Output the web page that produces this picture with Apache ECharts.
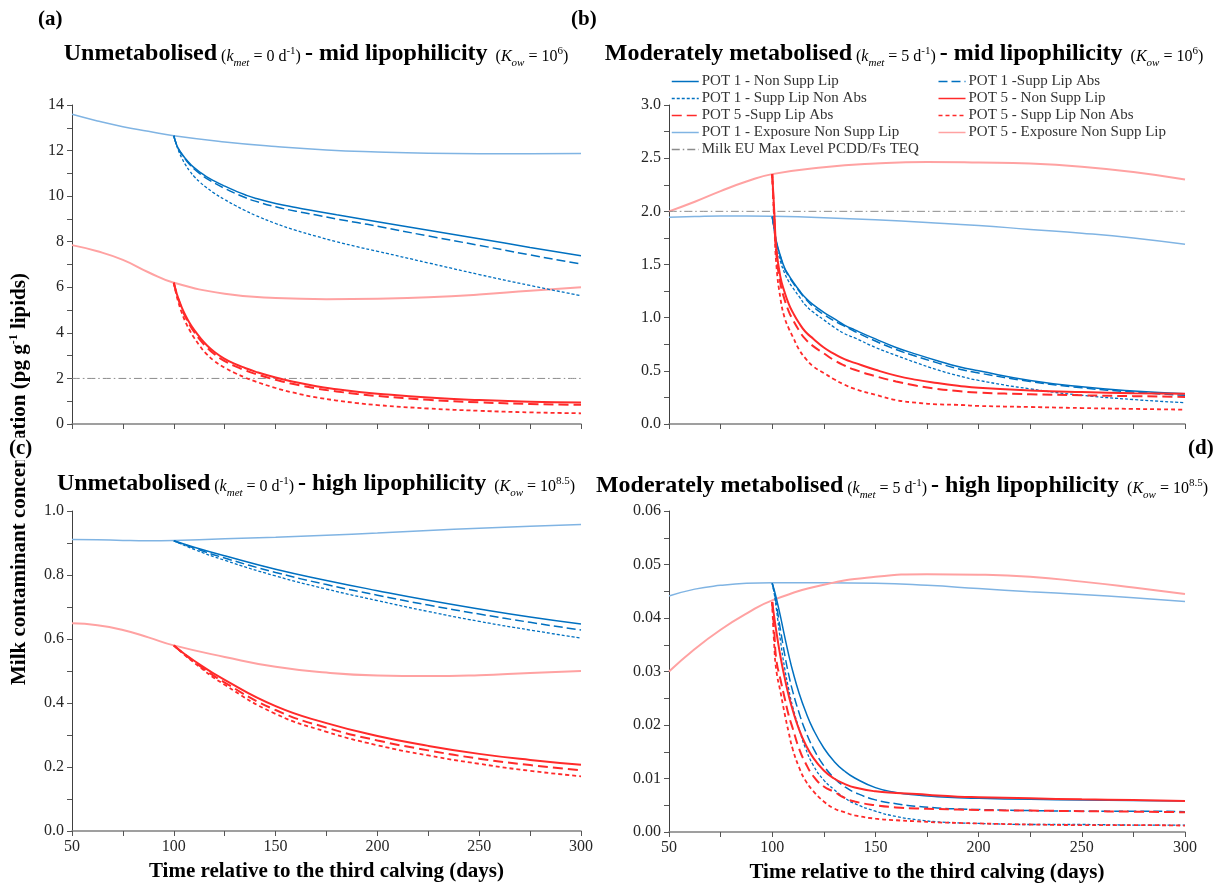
<!DOCTYPE html>
<html><head><meta charset="utf-8">
<script src="https://cdn.jsdelivr.net/npm/echarts@6/dist/echarts.min.js"></script>
<style>html,body{margin:0;padding:0;background:#fff}#c{width:1213px;height:883px}</style>
</head><body><div id="c"></div>
<script>
// ---------------- DATA ----------------
const daysExposure = [50, 62.5, 75, 87.5, 100, 125, 150, 175, 200, 225, 250, 275, 300];
const daysFast = [100, 101, 102, 104, 106, 108, 110, 113, 116, 120, 125, 130, 135, 140, 150, 160, 170, 180, 190, 200, 225, 250, 275, 300];
const daysSlow = [100, 110, 125, 150, 175, 200, 225, 250, 275, 300];
const limitDays = [50, 300];
const milkLimit = [2, 2];

const xTicks = [50, 100, 150, 200, 250, 300];

const seriesNames = [
  'POT 1 - Non Supp Lip', 'POT 1 -Supp Lip Abs',
  'POT 1 - Supp Lip Non Abs', 'POT 5 - Non Supp Lip',
  'POT 5 -Supp Lip Abs', 'POT 5 - Supp Lip Non Abs',
  'POT 1 - Exposure Non Supp Lip', 'POT 5 - Exposure Non Supp Lip',
  'Milk EU Max Level PCDD/Fs TEQ'
];

// Panel (a) unmetabolised, mid lipophilicity
const a_pot1Exposure = [13.59, 13.3, 13.05, 12.85, 12.65, 12.38, 12.18, 12.03, 11.94, 11.88, 11.86, 11.86, 11.87];
const a_pot5Exposure = [7.85, 7.58, 7.2, 6.66, 6.2, 5.72, 5.53, 5.48, 5.5, 5.56, 5.68, 5.85, 6.0];
const a_pot1NonSupp = [12.65, 12.35, 12.13, 11.85, 11.62, 11.42, 11.25, 11.04, 10.86, 10.66, 10.44, 10.24, 10.06, 9.91, 9.68, 9.5, 9.34, 9.18, 9.03, 8.88, 8.5, 8.13, 7.75, 7.38];
const a_pot1SuppAbs = [12.65, 12.34, 12.11, 11.82, 11.58, 11.37, 11.19, 10.97, 10.78, 10.57, 10.34, 10.13, 9.94, 9.78, 9.53, 9.34, 9.17, 9.0, 8.84, 8.68, 8.25, 7.84, 7.42, 7.02];
const a_pot1SuppNonAbs = [12.65, 12.33, 12.07, 11.66, 11.34, 11.08, 10.86, 10.6, 10.38, 10.12, 9.85, 9.6, 9.37, 9.16, 8.8, 8.5, 8.24, 8.0, 7.78, 7.58, 7.07, 6.56, 6.08, 5.63];
const a_pot5NonSupp = [6.2, 5.86, 5.57, 5.1, 4.72, 4.4, 4.13, 3.78, 3.48, 3.16, 2.86, 2.64, 2.46, 2.3, 2.04, 1.83, 1.66, 1.53, 1.42, 1.33, 1.16, 1.05, 0.98, 0.94];
const a_pot5SuppAbs = [6.2, 5.84, 5.53, 5.04, 4.65, 4.32, 4.04, 3.68, 3.38, 3.06, 2.76, 2.54, 2.36, 2.2, 1.94, 1.73, 1.56, 1.43, 1.32, 1.23, 1.06, 0.95, 0.88, 0.84];
const a_pot5SuppNonAbs = [6.2, 5.78, 5.42, 4.86, 4.43, 4.08, 3.78, 3.4, 3.08, 2.76, 2.47, 2.24, 2.04, 1.87, 1.58, 1.35, 1.17, 1.03, 0.92, 0.83, 0.68, 0.58, 0.51, 0.47];

// Panel (b) moderately metabolised, mid lipophilicity
const b_pot1Exposure = [1.945, 1.952, 1.957, 1.957, 1.954, 1.94, 1.92, 1.895, 1.867, 1.83, 1.795, 1.75, 1.69];
const b_pot5Exposure = [2.0, 2.09, 2.19, 2.28, 2.35, 2.415, 2.45, 2.465, 2.46, 2.45, 2.42, 2.37, 2.3];
const b_pot1NonSupp = [1.95, 1.84, 1.72, 1.58, 1.47, 1.4, 1.34, 1.26, 1.19, 1.12, 1.05, 0.99, 0.93, 0.885, 0.8, 0.72, 0.655, 0.595, 0.54, 0.5, 0.41, 0.35, 0.31, 0.285];
const b_pot1SuppAbs = [1.95, 1.83, 1.71, 1.57, 1.46, 1.39, 1.33, 1.25, 1.18, 1.1, 1.03, 0.97, 0.92, 0.87, 0.78, 0.7, 0.635, 0.575, 0.52, 0.48, 0.4, 0.34, 0.3, 0.27];
const b_pot1SuppNonAbs = [1.95, 1.82, 1.68, 1.53, 1.42, 1.34, 1.28, 1.2, 1.12, 1.05, 0.98, 0.91, 0.85, 0.81, 0.72, 0.645, 0.575, 0.51, 0.455, 0.41, 0.33, 0.27, 0.23, 0.2];
const b_pot5NonSupp = [2.35, 2.0, 1.65, 1.38, 1.24, 1.13, 1.05, 0.95, 0.87, 0.8, 0.72, 0.66, 0.61, 0.575, 0.51, 0.455, 0.415, 0.385, 0.36, 0.34, 0.315, 0.3, 0.29, 0.285];
const b_pot5SuppAbs = [2.35, 1.95, 1.6, 1.32, 1.17, 1.06, 0.98, 0.88, 0.8, 0.73, 0.665, 0.6, 0.55, 0.51, 0.45, 0.4, 0.36, 0.33, 0.31, 0.295, 0.28, 0.27, 0.262, 0.255];
const b_pot5SuppNonAbs = [2.35, 1.9, 1.5, 1.18, 1.0, 0.9, 0.82, 0.7, 0.62, 0.54, 0.48, 0.42, 0.37, 0.33, 0.275, 0.225, 0.2, 0.185, 0.18, 0.17, 0.16, 0.15, 0.142, 0.135];

// Panel (c) unmetabolised, high lipophilicity
const c_pot1Exposure = [0.911, 0.91, 0.908, 0.907, 0.908, 0.913, 0.918, 0.924, 0.931, 0.939, 0.946, 0.952, 0.958];
const c_pot5Exposure = [0.649, 0.643, 0.628, 0.605, 0.58, 0.544, 0.513, 0.495, 0.486, 0.484, 0.487, 0.494, 0.5];
const c_pot1NonSupp = [0.907, 0.887, 0.86, 0.818, 0.783, 0.751, 0.721, 0.694, 0.669, 0.647];
const c_pot1SuppAbs = [0.907, 0.884, 0.853, 0.808, 0.77, 0.737, 0.706, 0.678, 0.652, 0.628];
const c_pot1SuppNonAbs = [0.907, 0.88, 0.846, 0.797, 0.756, 0.72, 0.686, 0.655, 0.628, 0.603];
const c_pot5NonSupp = [0.58, 0.532, 0.472, 0.39, 0.337, 0.297, 0.266, 0.241, 0.222, 0.207];
const c_pot5SuppAbs = [0.58, 0.529, 0.464, 0.378, 0.323, 0.283, 0.252, 0.226, 0.206, 0.19];
const c_pot5SuppNonAbs = [0.58, 0.526, 0.457, 0.366, 0.31, 0.268, 0.236, 0.21, 0.188, 0.171];

// Panel (d) moderately metabolised, high lipophilicity
const d_pot1Exposure = [0.0441, 0.0454, 0.0461, 0.0465, 0.0466, 0.0466, 0.0465, 0.0461, 0.0455, 0.0449, 0.0444, 0.0438, 0.0431];
const d_pot5Exposure = [0.030, 0.0342, 0.0378, 0.0408, 0.0433, 0.0462, 0.0477, 0.0482, 0.0481, 0.0477, 0.0468, 0.0457, 0.0445];
const d_pot1NonSupp = [0.0465, 0.0452, 0.0437, 0.0403, 0.0366, 0.0331, 0.03, 0.026, 0.0227, 0.0191, 0.0157, 0.0132, 0.0114, 0.0101, 0.0083, 0.0074, 0.0069, 0.0066, 0.0064, 0.0063, 0.0061, 0.006, 0.0059, 0.0058];
const d_pot1SuppAbs = [0.0465, 0.0448, 0.0426, 0.0378, 0.0333, 0.0294, 0.0262, 0.0223, 0.019, 0.0156, 0.0124, 0.0101, 0.0085, 0.0074, 0.006, 0.0053, 0.0048, 0.0045, 0.0043, 0.0042, 0.004, 0.0039, 0.0039, 0.0038];
const d_pot1SuppNonAbs = [0.0465, 0.0445, 0.0418, 0.0358, 0.0307, 0.0267, 0.0233, 0.0193, 0.0158, 0.0124, 0.0097, 0.0079, 0.0064, 0.0053, 0.0039, 0.0029, 0.0023, 0.0019, 0.0017, 0.0016, 0.0014, 0.0014, 0.0013, 0.0013];
const d_pot5NonSupp = [0.043, 0.0401, 0.0375, 0.0328, 0.0289, 0.0255, 0.0227, 0.0192, 0.0165, 0.0138, 0.0115, 0.01, 0.009, 0.0083, 0.0076, 0.0073, 0.0071, 0.0068, 0.0066, 0.0065, 0.0063, 0.0061, 0.006, 0.0058];
const d_pot5SuppAbs = [0.043, 0.0375, 0.0322, 0.0285, 0.0251, 0.0218, 0.0193, 0.0156, 0.013, 0.0104, 0.0085, 0.0075, 0.0064, 0.0057, 0.005, 0.0046, 0.0044, 0.0043, 0.0042, 0.0041, 0.004, 0.0039, 0.0038, 0.0037];
const d_pot5SuppNonAbs = [0.043, 0.0348, 0.0302, 0.0262, 0.0222, 0.0186, 0.0154, 0.0121, 0.0097, 0.0076, 0.0057, 0.0044, 0.0037, 0.0031, 0.0025, 0.0022, 0.002, 0.0018, 0.0017, 0.0016, 0.0014, 0.0013, 0.0013, 0.0012];

// ---------------- STYLE ----------------
const SERIF = 'Liberation Serif';
const BLUE = '#0070C0', RED = '#FF2A2A', LBLUE = '#80B4E3', PINK = '#FFA2A2', GREY = '#8C8C8C';
const ST = {
  p1Non: {color: BLUE, width: 1.5, type: 'solid'},
  p1Abs: {color: BLUE, width: 1.5, type: [9, 4]},
  p1NonAbs: {color: BLUE, width: 1.3, type: [3, 2]},
  p5Non: {color: RED, width: 2, type: 'solid'},
  p5Abs: {color: RED, width: 2, type: [10, 5]},
  p5NonAbs: {color: RED, width: 1.8, type: [4, 3]},
  p1Exp: {color: LBLUE, width: 1.5, type: 'solid'},
  p5Exp: {color: PINK, width: 2, type: 'solid'},
  limit: {color: GREY, width: 1, type: [8, 3, 1.5, 3]}
};

function pairs(days, vals) { return days.map((d, i) => [d, vals[i]]); }
function mk(name, idx, days, vals, st, z) {
  return {
    type: 'line', name, xAxisIndex: idx, yAxisIndex: idx, data: pairs(days, vals),
    symbol: 'none', showSymbol: false, smooth: 0.5, z: z, silent: true,
    lineStyle: {color: st.color, width: st.width, type: st.type},
    itemStyle: {color: st.color}
  };
}

function panelSeries(idx, p, withLimit, fastDays) {
  const s = [];
  s.push(mk(seriesNames[6], idx, daysExposure, p.e1, ST.p1Exp, 2));
  s.push(mk(seriesNames[7], idx, daysExposure, p.e5, ST.p5Exp, 2));
  if (withLimit) s.push(mk(seriesNames[8], idx, limitDays, milkLimit, ST.limit, 2));
  s.push(mk(seriesNames[0], idx, fastDays, p.n1, ST.p1Non, 3));
  s.push(mk(seriesNames[1], idx, fastDays, p.a1, ST.p1Abs, 3));
  s.push(mk(seriesNames[2], idx, fastDays, p.na1, ST.p1NonAbs, 3));
  s.push(mk(seriesNames[3], idx, fastDays, p.n5, ST.p5Non, 4));
  s.push(mk(seriesNames[4], idx, fastDays, p.a5, ST.p5Abs, 4));
  s.push(mk(seriesNames[5], idx, fastDays, p.na5, ST.p5NonAbs, 4));
  return s;
}

const series = [].concat(
  panelSeries(0, {e1: a_pot1Exposure, e5: a_pot5Exposure, n1: a_pot1NonSupp, a1: a_pot1SuppAbs, na1: a_pot1SuppNonAbs, n5: a_pot5NonSupp, a5: a_pot5SuppAbs, na5: a_pot5SuppNonAbs}, true, daysFast),
  panelSeries(1, {e1: b_pot1Exposure, e5: b_pot5Exposure, n1: b_pot1NonSupp, a1: b_pot1SuppAbs, na1: b_pot1SuppNonAbs, n5: b_pot5NonSupp, a5: b_pot5SuppAbs, na5: b_pot5SuppNonAbs}, true, daysFast),
  panelSeries(2, {e1: c_pot1Exposure, e5: c_pot5Exposure, n1: c_pot1NonSupp, a1: c_pot1SuppAbs, na1: c_pot1SuppNonAbs, n5: c_pot5NonSupp, a5: c_pot5SuppAbs, na5: c_pot5SuppNonAbs}, false, daysSlow),
  panelSeries(3, {e1: d_pot1Exposure, e5: d_pot5Exposure, n1: d_pot1NonSupp, a1: d_pot1SuppAbs, na1: d_pot1SuppNonAbs, n5: d_pot5NonSupp, a5: d_pot5SuppAbs, na5: d_pot5SuppNonAbs}, false, daysFast)
);

const grids = [
  {left: 72, top: 105, width: 509, height: 319, outerBoundsMode: 'none', containLabel: false},
  {left: 669, top: 105, width: 516, height: 319, outerBoundsMode: 'none', containLabel: false},
  {left: 72, top: 511, width: 509, height: 320, outerBoundsMode: 'none', containLabel: false},
  {left: 669, top: 511, width: 516, height: 321, outerBoundsMode: 'none', containLabel: false}
];

function xAx(idx, showLabels) {
  return {
    type: 'value', gridIndex: idx, min: xTicks[0], max: xTicks[xTicks.length - 1], interval: 50,
    axisLine: {show: true, onZero: false, lineStyle: {color: '#808080', width: 1.5}},
    axisTick: {show: true, length: 5, lineStyle: {color: '#555'}},
    minorTick: {show: true, splitNumber: 2, length: 5, lineStyle: {color: '#555'}},
    splitLine: {show: false}, minorSplitLine: {show: false},
    axisLabel: {show: showLabels, fontFamily: SERIF, fontSize: 16, color: '#262626', margin: 8},
    name: showLabels ? 'Time relative to the third calving (days)' : '',
    nameLocation: 'middle', nameGap: 30,
    nameTextStyle: {fontFamily: SERIF, fontWeight: 'bold', fontSize: 21, color: '#000'}
  };
}
function yAx(idx, max, interval, dec) {
  return {
    type: 'value', gridIndex: idx, min: 0, max: max, interval: interval,
    axisLine: {show: true, onZero: false, lineStyle: {color: '#404040', width: 1}},
    axisTick: {show: true, length: 5, lineStyle: {color: '#555'}},
    minorTick: {show: true, splitNumber: 2, length: 5, lineStyle: {color: '#555'}},
    splitLine: {show: false}, minorSplitLine: {show: false},
    axisLabel: {formatter: v => v.toFixed(dec), fontFamily: SERIF, fontSize: 16, color: '#262626', margin: 8}
  };
}

const R = {
  b: {fontFamily: SERIF, fontWeight: 'bold', fontSize: 24, color: '#000', verticalAlign: 'bottom', padding: [0, 0, 3, 0]},
  s: {fontFamily: SERIF, fontSize: 16, color: '#000', verticalAlign: 'bottom', padding: [0, 0, 4, 0]},
  i: {fontFamily: SERIF, fontStyle: 'italic', fontSize: 16, color: '#000', verticalAlign: 'bottom', padding: [0, 0, 4, 0]},
  sub: {fontFamily: SERIF, fontStyle: 'italic', fontSize: 11, color: '#000', verticalAlign: 'bottom', padding: [0, 0, 0, 0]},
  sup: {fontFamily: SERIF, fontSize: 11, color: '#000', verticalAlign: 'bottom', padding: [0, 0, 12, 0]}
};
function title(x, y, main1, kmet, main2, kow) {
  return {
    type: 'text', x: x, y: y, silent: true,
    style: {
      text: '{b|' + main1 + '}{s| (}{i|k}{sub|met}{s| = ' + kmet + ' d}{sup|-1}{s|) }{b|- ' + main2 + '}{s|  (}{i|K}{sub|ow}{s| = 10}{sup|' + kow + '}{s|)}',
      rich: R, align: 'center', verticalAlign: 'middle'
    }
  };
}
function letter(x, y, t, bg) {
  return {type: 'text', x: x, y: y, silent: true, z: 10, style: {text: t, fontFamily: SERIF, fontWeight: 'bold', fontSize: 21, fill: '#000', align: 'left', verticalAlign: 'middle', backgroundColor: bg ? '#fff' : null, padding: bg ? [1, 1, 1, 1] : 0}};
}

const graphics = [
  {
    type: 'text', x: 20, y: 479, rotation: Math.PI / 2, silent: true, z: 1,
    style: {
      text: '{t|Milk contaminant concentration (pg g}{u|-1}{t| lipids)}',
      rich: {
        t: {fontFamily: SERIF, fontWeight: 'bold', fontSize: 21, color: '#000', verticalAlign: 'bottom', padding: [0, 0, 2, 0]},
        u: {fontFamily: SERIF, fontWeight: 'bold', fontSize: 12, color: '#000', verticalAlign: 'bottom', padding: [0, 0, 12, 0]}
      },
      align: 'center', verticalAlign: 'middle'
    }
  },
  letter(38, 20, '(a)'), letter(571, 20, '(b)'), letter(8, 449, '(c)', true), letter(1188, 449, '(d)'),
  title(316, 55, 'Unmetabolised', '0', 'mid lipophilicity', '6'),
  title(904, 55, 'Moderately metabolised', '5', 'mid lipophilicity', '6'),
  title(316, 485, 'Unmetabolised', '0', 'high lipophilicity', '8.5'),
  title(902, 487, 'Moderately metabolised', '5', 'high lipophilicity', '8.5')
];

const chart = echarts.init(document.getElementById('c'), null, {renderer: 'canvas'});
chart.setOption({
  animation: false,
  backgroundColor: '#fff',
  grid: grids,
  xAxis: [xAx(0, false), xAx(1, false), xAx(2, true), xAx(3, true)],
  yAxis: [yAx(0, 14, 2, 0), yAx(1, 3, 0.5, 1), yAx(2, 1, 0.2, 1), yAx(3, 0.06, 0.01, 2)],
  legend: {
    data: seriesNames, left: 671, top: 74, width: 545, orient: 'horizontal', padding: 0,
    itemWidth: 27, itemHeight: 10, itemGap: 2, selectedMode: false,
    itemStyle: {opacity: 0},
    lineStyle: {width: 1.5},
    textStyle: {fontFamily: SERIF, fontSize: 15, color: '#333', width: 234, lineHeight: 15, padding: [0, 0, 0, -2]}
  },
  graphic: graphics,
  series: series
});
</script></body></html>
